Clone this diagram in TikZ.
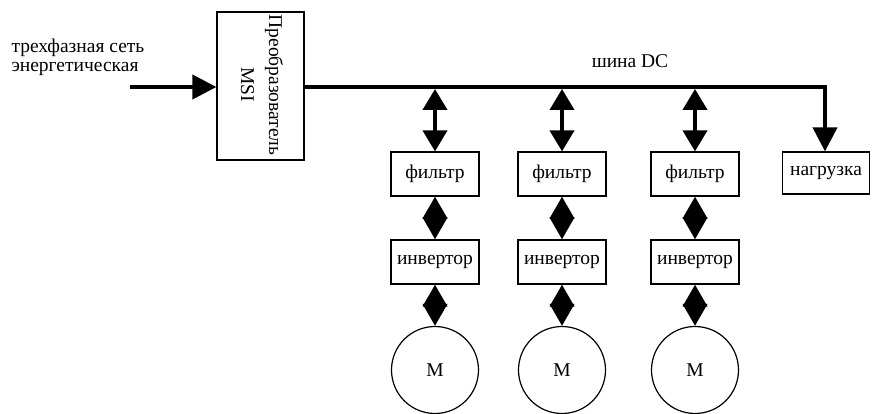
\documentclass[tikz,border=0pt]{standalone}
\usepackage{fontspec}
\setmainfont{Liberation Serif}
\usetikzlibrary{arrows.meta}
\begin{document}
\begin{tikzpicture}[x=1pt,y=-1pt,
  txt/.style={font=\fontsize{19.5}{22}\selectfont},
  blockbox/.style={draw,line width=1.2pt,minimum width=88pt,minimum height=44pt,inner sep=0pt,txt},
  motor/.style={draw,circle,line width=1.2pt,minimum size=87pt,inner sep=0pt,txt},
  conn/.style={line width=4pt},
  tipend/.style={-{Triangle[length=24pt,width=24pt]}},
  dtip/.style={{Triangle[length=21pt,width=24pt]}-{Triangle[length=21pt,width=24pt]}},
  diam/.style={{Triangle[length=22pt,width=24pt]}-{Triangle[length=22pt,width=24pt]}}
]
\useasboundingbox (0,0) rectangle (873,414);
% labels
\node[txt,anchor=west] (lab1) at (8,48) {трехфазная сеть};
\node[txt,anchor=west] (lab2) at (8,69) {энергетическая};
\node[txt] (buslab) at (630,61) {шина DC};
% converter
\node[draw,line width=1.2pt,minimum width=87pt,minimum height=148pt,inner sep=0pt] (msi) at (260.5,86) {};
\node[txt,rotate=-90,align=center,inner sep=0pt] (msitext) at (262,85) {Преобразователь\\[6pt]MSI};
\coordinate (inp) at (130,87);
\draw[conn,tipend] (inp) -- (msi.west |- inp);
% bus
\coordinate (bus0) at (304,87);
\coordinate (busend) at (825,87);
% filters
\node[blockbox] (f1) at (435,174) {фильтр};
\node[blockbox] (f2) at (562,174) {фильтр};
\node[blockbox] (f3) at (695,174) {фильтр};
\node[blockbox,minimum width=87pt,minimum height=42pt] (load) at (826,173) {нагрузка};
% inverters
\node[blockbox] (i1) at (435,262) {инвертор};
\node[blockbox] (i2) at (562,262) {инвертор};
\node[blockbox] (i3) at (695,262) {инвертор};
% motors
\node[motor] (m1) at (435,370) {М};
\node[motor] (m2) at (562,370) {М};
\node[motor] (m3) at (695,370) {М};
% bus line and load
\draw[conn] (bus0) -- ([xshift=2pt]busend);
\draw[conn,tipend] ([yshift=2pt]busend) -- (load.north -| busend);
\coordinate (t1) at (435,89);
\coordinate (t2) at (562,89);
\coordinate (t3) at (695,89);
\draw[conn,dtip] (t1) -- (f1.north);
\draw[conn,dtip] (t2) -- (f2.north);
\draw[conn,dtip] (t3) -- (f3.north);
\draw[conn,diam] (f1.south) -- (i1.north);
\draw[conn,diam] (f2.south) -- (i2.north);
\draw[conn,diam] (f3.south) -- (i3.north);
\draw[conn,diam] (i1.south) -- (m1.north);
\draw[conn,diam] (i2.south) -- (m2.north);
\draw[conn,diam] (i3.south) -- (m3.north);
\end{tikzpicture}
\end{document}
